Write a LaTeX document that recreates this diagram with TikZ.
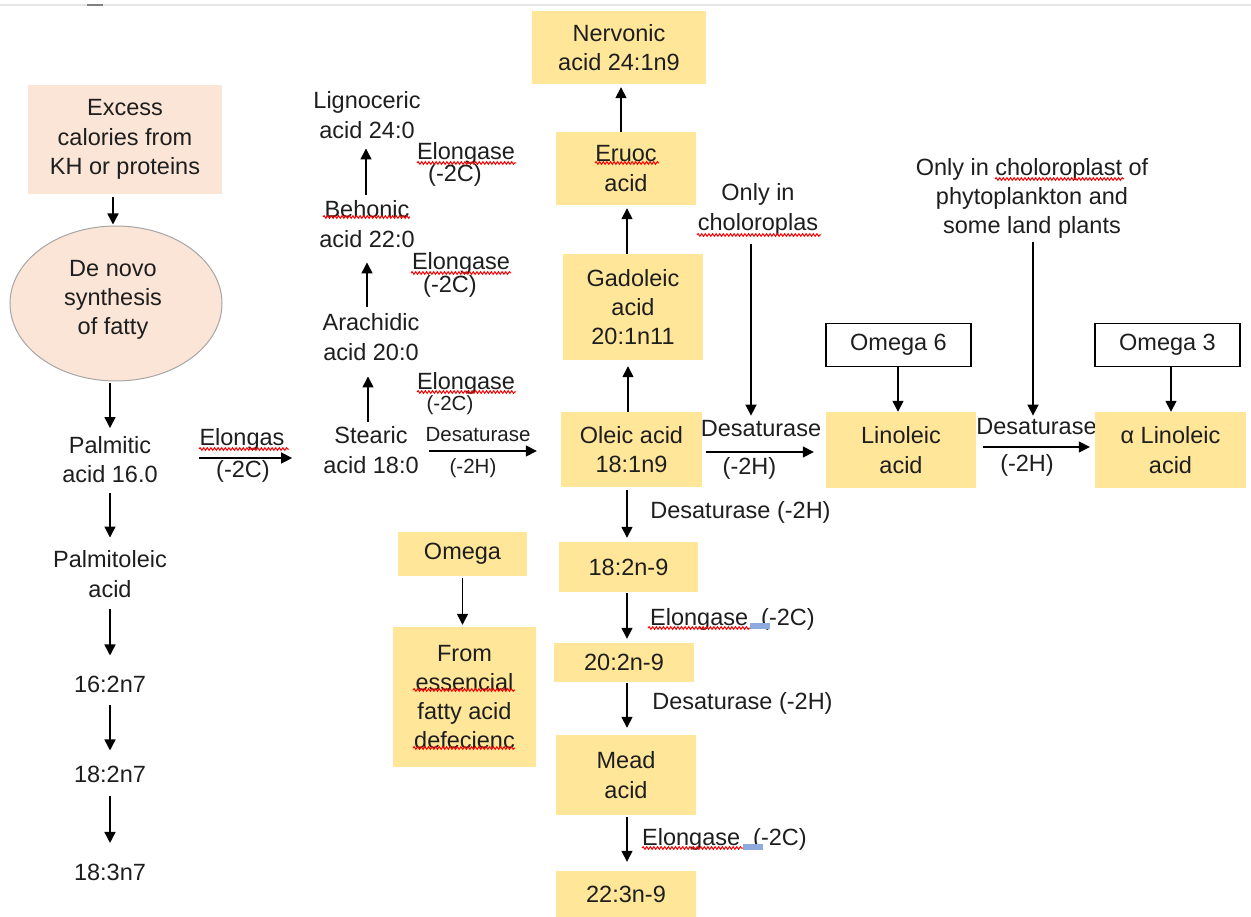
\documentclass[tikz,border=0pt]{standalone}
\usepackage{fontspec}
\setmainfont{Liberation Sans}
\usetikzlibrary{arrows.meta,shapes.geometric,decorations.pathmorphing}
\definecolor{yel}{HTML}{FFE699}
\definecolor{peach}{HTML}{FBE5D6}
\definecolor{tc}{HTML}{1E1E1E}
\definecolor{selblue}{HTML}{8FAADC}
\definecolor{ellline}{HTML}{A6A6A6}
\newcommand\fsA{\fontsize{23.5}{29.3}\selectfont}
\newcommand\fsB{\fontsize{20.5}{25}\selectfont}
\begin{document}
\begin{tikzpicture}[x=1pt,y=-1pt,
 txt/.style={inner sep=0pt, align=center, font=\fsA, text=tc},
 stxt/.style={txt, font=\fsB},
 ybox/.style={txt, fill=yel},
 pbox/.style={txt, fill=peach},
 ell/.style={ellipse, draw=ellline, line width=1pt, fill=peach, minimum width=212pt, minimum height=155pt, inner sep=0pt},
 wbox/.style={txt, draw=black, line width=1.3pt, fill=white, minimum width=145pt, minimum height=43pt},
 arr/.style={draw=black, line width=1.5pt, -{Triangle[width=11pt,length=11pt]}},
 wavy/.style={draw=red, line width=1pt, decorate, decoration={snake, amplitude=1.3pt, segment length=3.6pt}}]
\fill[white] (0,0) rectangle (1251,917);
\useasboundingbox (0,0) rectangle (1251,917);
\draw[line width=2pt, black!10] (0,5) -- (1251,5);
\draw[line width=2pt, black!50] (87,5) -- (103,5);

% left column
\node[pbox, minimum width=194pt, minimum height=109pt] (excess) at (125,139.5) {Excess\\calories from\\KH or proteins};
\node[ell] (den) at (116,303.5) {};
\node[txt] (dentxt) at (113,300) {De novo\\synthesis\\of fatty};
\node[txt] (palm) at (110,459.5) {Palmitic\\acid 16.0};
\node[txt] (palmo) at (110,574) {Palmitoleic\\acid};
\node[txt] (f1) at (110,684) {16:2n7};
\node[txt] (f2) at (110,774) {18:2n7};
\node[txt] (f3) at (110,872.5) {18:3n7};
\draw[arr, shorten <=3pt, shorten >=1pt] ([xshift=-12pt]excess.south) -- ([xshift=-12pt]excess.south |- den.north);
\draw[arr, shorten <=2pt, shorten >=8pt] (den.south -| palm) -- (palm.north);
\draw[arr, shorten <=10pt, shorten >=13pt] (palm.south) -- (palmo.north);
\draw[arr, shorten <=12pt, shorten >=20pt] (palmo.south) -- (f1.north);
\draw[arr, shorten <=12pt, shorten >=15pt] (f1.south) -- (f2.north);
\draw[arr, shorten <=13pt, shorten >=21pt] (f2.south) -- (f3.north);

% stearic column
\node[txt] (stearic) at (371,450) {Stearic\\acid 18:0};
\node[txt] (arach) at (371,337) {Arachidic\\acid 20:0};
\node[txt] (behon) at (367,224) {Behonic\\acid 22:0};
\node[txt] (lign) at (367,115) {Lignoceric\\acid 24:0};
\draw[arr, shorten <=5pt, shorten >=16pt] ([xshift=-3pt]stearic.north) -- ([xshift=-3pt]stearic.north |- arach.south);
\draw[arr, shorten <=7pt, shorten >=15pt] ([xshift=-4pt]arach.north) -- ([xshift=-4pt]arach.north |- behon.south);
\draw[arr, shorten <=6pt, shorten >=10pt] ([xshift=-1pt]behon.north) -- ([xshift=-1pt]behon.north |- lign.south);

\node[txt, anchor=base] (elg) at (242,445) {Elongas};
\node[txt, anchor=base] (elgc) at (243,477) {(-2C)};
\draw[arr, shorten <=41pt, shorten >=31pt] ([yshift=1.5pt]palm.east) -- ([yshift=1.5pt]palm.east -| stearic.west);

\node[txt, anchor=base] (e1) at (466,160) {Elongase};
\node[txt, anchor=base] (e1c) at (455,182) {(-2C)};
\node[txt, anchor=base] (e2) at (461,270) {Elongase};
\node[txt, anchor=base] (e2c) at (450,293) {(-2C)};
\node[txt, anchor=base] (e3) at (466,389) {Elongase};
\node[stxt, anchor=base] (e3c) at (450,410) {(-2C)};

% middle column
\node[ybox, minimum width=174pt, minimum height=73pt] (nerv) at (619,47.5) {Nervonic\\acid 24:1n9};
\node[ybox, minimum width=140pt, minimum height=73pt] (eruoc) at (626,168.5) {Eruoc\\acid};
\node[ybox, minimum width=140pt, minimum height=106pt] (gado) at (633,307) {Gadoleic\\acid\\20:1n11};
\node[ybox, minimum width=141pt, minimum height=75pt] (oleic) at (631.5,449.5) {Oleic acid\\18:1n9};
\draw[arr, shorten >=6pt] ([xshift=-3.5pt]oleic.north) -- ([xshift=-3.5pt]oleic.north |- gado.south);
\draw[arr, shorten >=3pt] ([xshift=-6pt]gado.north) -- ([xshift=-6pt]gado.north |- eruoc.south);
\draw[arr, shorten >=3pt] ([xshift=-5pt]eruoc.north) -- ([xshift=-5pt]eruoc.north |- nerv.south);

\node[stxt, anchor=base] (ds1) at (478,441) {Desaturase};
\node[stxt, anchor=base] (ds1h) at (473,473) {(-2H)};
\draw[arr, shorten <=10pt, shorten >=24pt] ([yshift=-1pt]stearic.east) -- ([yshift=-1pt]stearic.east -| oleic.west);

% right part
\node[txt] (onlyA) at (758,209.5) {Only in\\choloroplas};
\node[txt, anchor=base] (ds2) at (761,436) {Desaturase};
\node[txt, anchor=base] (ds2h) at (749.5,474) {(-2H)};
\draw[arr, shorten <=9pt, shorten >=4pt] ([xshift=-7pt]onlyA.south) -- ([xshift=-7pt]onlyA.south |- ds2.north);
\node[wbox] (om6) at (898.5,345) {Omega 6};
\node[ybox, minimum width=150pt, minimum height=76pt] (lino) at (901,450) {Linoleic\\acid};
\draw[arr] ([xshift=-0.5pt]om6.south) -- ([xshift=-0.5pt]om6.south |- lino.north);
\draw[arr, shorten <=4pt, shorten >=12pt] ([yshift=-2.5pt]oleic.east) -- ([yshift=-2.5pt]oleic.east -| lino.west);

\node[txt] (onlyB) at (1032,198.5) {Only in choloroplast of\\phytoplankton and\\some land plants};
\node[txt, anchor=base] (ds3) at (1036.5,435) {Desaturase};
\node[txt, anchor=base] (ds3h) at (1027,471) {(-2H)};
\draw[arr, shorten <=3pt, shorten >=3pt] ([xshift=1pt]onlyB.south) -- ([xshift=1pt]onlyB.south |- ds3.north);
\node[wbox] (om3) at (1167.5,345) {Omega 3};
\node[ybox, minimum width=151pt, minimum height=76pt] (alin) at (1170.5,450) {α Linoleic\\acid};
\draw[arr] ([xshift=3.5pt]om3.south) -- ([xshift=3.5pt]om3.south |- alin.north);
\draw[arr, shorten <=7pt, shorten >=5pt] ([yshift=3pt]lino.east) -- ([yshift=3pt]lino.east -| alin.west);

% lower middle
\node[ybox, minimum width=139pt, minimum height=50pt] (s182) at (628.5,567) {18:2n-9};
\node[ybox, minimum width=140pt, minimum height=39pt] (s202) at (624,662.5) {20:2n-9};
\node[ybox, minimum width=140pt, minimum height=80pt] (mead) at (626,775) {Mead\\acid};
\node[ybox, minimum width=140pt, minimum height=47pt] (s223) at (626,894.5) {22:3n-9};
\node[txt, anchor=base] (ds4) at (740.5,518) {Desaturase (-2H)};
\node[txt, anchor=base west] (el4) at (650,625) {Elongase\ \ (-2C)};
\node[txt, anchor=base] (ds5) at (742.5,709) {Desaturase (-2H)};
\node[txt, anchor=base west] (el5) at (642,845) {Elongase\ \ (-2C)};
\draw[arr, shorten <=3pt, shorten >=4pt] ([xshift=-4.5pt]oleic.south) -- ([xshift=-4.5pt]oleic.south |- s182.north);
\draw[arr, shorten <=1pt, shorten >=4pt] ([xshift=-1.5pt]s182.south) -- ([xshift=-1.5pt]s182.south |- s202.north);
\draw[arr, shorten <=1pt, shorten >=7pt] ([xshift=3pt]s202.south) -- ([xshift=3pt]s202.south |- mead.north);
\draw[arr, shorten <=2pt, shorten >=9pt] ([xshift=1pt]mead.south) -- ([xshift=1pt]mead.south |- s223.north);

\node[ybox, minimum width=129pt, minimum height=44pt] (omg) at (462.5,554) {Omega};
\node[ybox, minimum width=143pt, minimum height=140pt] (from) at (464.5,697) {From\\essencial\\fatty acid\\defecienc};
\draw[arr, shorten <=2pt, shorten >=2pt] (omg.south) -- (omg.south |- from.north);

% selection marks and spell-check underlines
\fill[selblue] (750,623) rectangle (770,629);
\fill[selblue] (743,844) rectangle (763,850);
\draw[wavy] (199,449) -- (289,449);
\draw[wavy] (417,163) -- (516,163);
\draw[wavy] (411,273) -- (511,273);
\draw[wavy] (417,392) -- (516,392);
\draw[wavy] (323,217) -- (410,217);
\draw[wavy] (595,163) -- (659,163);
\draw[wavy] (697,235) -- (821,235);
\draw[wavy] (995,179) -- (1124,179);
\draw[wavy] (413,690) -- (515,690);
\draw[wavy] (413,748) -- (515,748);
\draw[wavy] (648,628) -- (750,628);
\draw[wavy] (642,848) -- (743,848);
\end{tikzpicture}
\end{document}
